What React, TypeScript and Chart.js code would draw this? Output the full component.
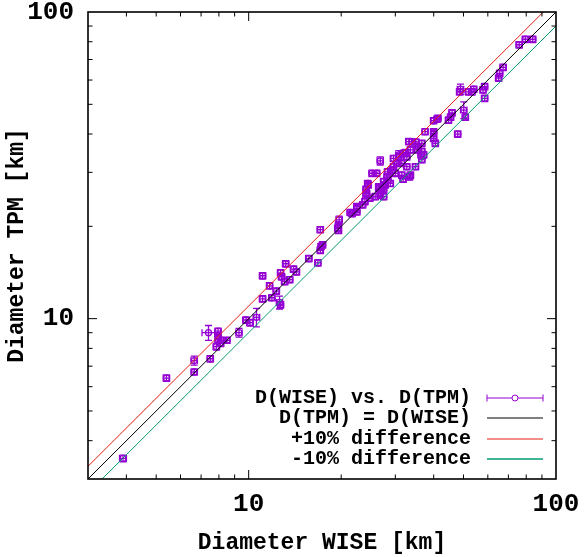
import React, { useEffect, useRef } from 'react';
import { Chart, registerables } from 'chart.js';

Chart.register(...registerables);

// Diameter from WISE [km]
const wiseD = [
  3.9, 5.4, 6.65, 6.65, 7.5, 7.4, 7.95, 7.95, 7.95, 7.85, 8.1, 8.25, 8.5, 9.3, 9.8, 10.1, 10.6,
  11.1, 11.1, 11.7, 11.9, 12.3, 12.6, 12.7, 12.7, 12.8, 13.2, 13.1, 13.6, 14.0, 14.3, 15.7, 16.8,
  17.1, 17.2, 17.4, 17.1, 19.5, 19.7, 19.6, 19.6, 21.4, 21.7, 22.5, 22.5, 22.5, 23.5, 23.9, 24.1,
  24.4, 24.1, 24.5, 24.2, 24.8, 25.2, 26.1, 26.8, 26.8, 26.5, 26.5, 27.5, 27.1, 25.8, 26.8, 27.5,
  27.5, 28.2, 28.3, 28.9, 28.4, 27.8, 27.5, 29.3, 30.0, 29.6, 29.6, 30.4, 30.8, 30.8, 31.9, 31.5,
  31.8, 31.5, 32.4, 32.7, 33.6, 33.6, 33.4, 32.7, 33.2, 34.0, 35.0, 35.4, 35.6, 36.6, 36.6, 36.4,
  36.6, 34.9, 37.1, 37.5, 40.0, 40.5, 40.0, 40.0, 41.0, 41.3, 40.0, 44.7, 45.4, 45.9, 47.9, 50.1,
  50.7, 48.9, 48.6, 51.9, 53.3, 54.0, 57.9, 58.6, 58.6, 65.1, 65.6, 67.3, 75.9, 79.5, 84.0,
];

// Diameter from TPM [km]
const tpmD = [
  3.5, 6.4, 6.7, 7.3, 7.4, 9.0, 9.1, 8.8, 8.55, 8.1, 8.3, 8.5, 8.5, 9.0, 9.9, 9.7, 10.1,
  13.8, 11.6, 12.8, 11.7, 12.3, 11.3, 11.1, 14.1, 13.7, 15.1, 13.2, 13.4, 14.5, 14.2, 15.7, 15.2,
  19.5, 17.2, 17.4, 16.7, 19.7, 21.0, 20.2, 19.4, 22.2, 22.0, 22.3, 22.9, 23.2, 23.5, 24.1, 25.3,
  27.6, 26.4, 27.3, 25.6, 24.7, 29.8, 29.8, 32.7, 25.6, 26.9, 26.6, 28.0, 26.3, 25.0, 25.3, 27.3,
  25.0, 29.0, 30.1, 27.6, 28.3, 27.3, 26.3, 30.5, 29.8, 31.3, 33.3, 32.1, 33.7, 34.2, 34.6, 29.4,
  28.5, 32.1, 34.8, 33.7, 35.5, 29.4, 29.0, 31.3, 37.8, 37.7, 37.7, 35.5, 36.4, 37.3, 35.1, 34.2,
  33.0, 31.3, 34.2, 40.7, 40.7, 37.3, 38.7, 40.2, 44.7, 45.0, 44.2, 44.4, 45.4, 46.9, 40.0, 47.9,
  45.4, 56.0, 54.9, 54.9, 54.9, 56.0, 55.7, 57.1, 52.3, 60.9, 63.1, 66.0, 78.2, 81.5, 81.5,
];

// uncertainties [km]
const wiseErr = [
  0.1, 0.13, 0.16, 0.16, 0.18, 0.35, 0.19, 0.19, 0.19, 0.19, 0.2, 0.2, 0.2, 0.22, 0.24, 0.25, 0.26,
  0.27, 0.27, 0.28, 0.29, 0.3, 0.3, 0.3, 0.3, 0.31, 0.32, 0.32, 0.33, 0.34, 0.35, 0.38, 0.4,
  0.41, 0.41, 0.42, 0.41, 0.47, 0.47, 0.47, 0.47, 0.52, 0.52, 0.54, 0.54, 0.54, 0.56, 0.57, 0.58,
  0.59, 0.58, 0.59, 0.58, 0.6, 0.6, 0.63, 0.64, 0.64, 0.64, 0.64, 0.66, 0.65, 0.62, 0.64, 0.66,
  0.66, 0.68, 0.68, 0.69, 0.68, 0.67, 0.66, 0.7, 0.72, 0.71, 0.71, 0.73, 0.74, 0.74, 0.77, 0.76,
  0.76, 0.76, 0.78, 0.78, 0.81, 0.81, 0.8, 0.78, 0.8, 0.82, 0.84, 0.85, 0.85, 0.88, 0.88, 0.87,
  0.88, 0.84, 0.89, 0.9, 0.96, 0.97, 0.96, 0.96, 0.98, 0.99, 0.96, 1.07, 1.09, 1.1, 1.15, 1.2,
  1.22, 1.17, 1.17, 1.25, 1.28, 1.3, 1.39, 1.41, 1.41, 1.56, 1.57, 1.62, 1.82, 1.91, 2.02,
];

const tpmErr = [
  0.09, 0.16, 0.16, 0.25, 0.18, 0.5, 0.22, 0.21, 0.2, 0.2, 0.2, 0.2, 0.2, 0.3, 0.24, 0.24, 0.7,
  0.33, 0.28, 0.31, 0.28, 0.3, 0.55, 0.27, 0.34, 0.33, 0.36, 0.32, 0.32, 0.35, 0.34, 0.38, 0.37,
  0.47, 0.41, 0.42, 0.4, 0.47, 0.6, 0.48, 0.47, 0.53, 0.53, 0.54, 0.7, 0.56, 0.56, 0.58, 0.61,
  0.66, 0.63, 0.66, 0.61, 0.59, 0.72, 0.72, 1.0, 0.61, 0.65, 0.64, 0.67, 0.63, 0.6, 0.61, 0.66,
  0.6, 0.7, 0.72, 0.66, 0.68, 0.66, 0.63, 0.73, 0.72, 0.75, 0.8, 0.77, 0.81, 1.1, 0.83, 0.71,
  0.68, 0.77, 0.84, 0.81, 0.85, 0.71, 0.7, 0.75, 0.91, 0.9, 0.9, 0.85, 0.87, 0.9, 0.84, 0.82,
  0.79, 0.75, 0.82, 0.98, 0.98, 0.9, 0.93, 0.96, 1.07, 1.08, 1.06, 1.07, 1.09, 1.13, 0.96, 3.0,
  1.09, 2.2, 1.32, 1.32, 1.32, 1.34, 1.34, 1.37, 1.26, 1.46, 1.51, 1.58, 1.88, 1.96, 1.96,
];

const axisRange = [3, 100];
const ratios = [1.0, 1.1, 0.9];
const majorTicks = [10, 100];
const minorTicks = [3, 4, 5, 6, 7, 8, 9, 20, 30, 40, 50, 60, 70, 80, 90];
const legendLabels = ['D(WISE) vs. D(TPM)', 'D(TPM) = D(WISE)', '+10% difference', '-10% difference'];

const PURPLE = '#9400d3';
const lineColors = ['#000000', '#e51e10', '#009e73'];
const FONT = '"Liberation Mono", "Courier New", monospace';
const CAP = 3.5;

const gnuplotPlugin = {
  id: 'gnuplotStyle',
  beforeDatasetsDraw(chart: any) {
    const { ctx, chartArea: a, scales } = chart;
    const x = scales.x;
    const y = scales.y;
    ctx.save();
    ctx.beginPath();
    ctx.rect(a.left, a.top, a.right - a.left, a.bottom - a.top);
    ctx.clip();
    ctx.strokeStyle = PURPLE;
    ctx.lineWidth = 1.3;
    ctx.beginPath();
    for (let i = 0; i < wiseD.length; i++) {
      const px = x.getPixelForValue(wiseD[i]);
      const py = y.getPixelForValue(tpmD[i]);
      const x0 = x.getPixelForValue(wiseD[i] - wiseErr[i]);
      const x1 = x.getPixelForValue(wiseD[i] + wiseErr[i]);
      const y0 = y.getPixelForValue(tpmD[i] - tpmErr[i]);
      const y1 = y.getPixelForValue(tpmD[i] + tpmErr[i]);
      ctx.moveTo(x0, py); ctx.lineTo(x1, py);
      ctx.moveTo(x0, py - CAP); ctx.lineTo(x0, py + CAP);
      ctx.moveTo(x1, py - CAP); ctx.lineTo(x1, py + CAP);
      ctx.moveTo(px, y0); ctx.lineTo(px, y1);
      ctx.moveTo(px - CAP, y0); ctx.lineTo(px + CAP, y0);
      ctx.moveTo(px - CAP, y1); ctx.lineTo(px + CAP, y1);
    }
    ctx.stroke();
    ctx.restore();
  },
  afterDraw(chart: any) {
    const { ctx, chartArea: a, scales } = chart;
    const x = scales.x;
    const y = scales.y;
    ctx.save();
    // ticks (inward, mirrored)
    ctx.strokeStyle = '#000';
    ctx.lineWidth = 1;
    ctx.beginPath();
    const drawTicks = (vals: number[], len: number) => {
      vals.forEach((v) => {
        const xp = x.getPixelForValue(v);
        if (xp > a.left + 0.5 && xp < a.right - 0.5) {
          ctx.moveTo(xp, a.bottom); ctx.lineTo(xp, a.bottom - len);
          ctx.moveTo(xp, a.top); ctx.lineTo(xp, a.top + len);
        }
        const yp = y.getPixelForValue(v);
        if (yp > a.top + 0.5 && yp < a.bottom - 0.5) {
          ctx.moveTo(a.left, yp); ctx.lineTo(a.left + len, yp);
          ctx.moveTo(a.right, yp); ctx.lineTo(a.right - len, yp);
        }
      });
    };
    drawTicks(majorTicks, 9);
    drawTicks(minorTicks, 4.5);
    ctx.stroke();
    // frame
    ctx.lineWidth = 1.6;
    ctx.strokeRect(a.left, a.top, a.right - a.left, a.bottom - a.top);

    // legend
    ctx.font = `bold 20px ${FONT}`;
    ctx.textAlign = 'right';
    ctx.textBaseline = 'middle';
    ctx.fillStyle = '#000';
    const rows = [a.bottom - 81, a.bottom - 61, a.bottom - 40, a.bottom - 20];
    const tx = a.right - 85;
    const sx0 = a.right - 69;
    const sx1 = a.right - 13;
    legendLabels.forEach((lab, i) => {
      const ry = rows[i];
      ctx.fillText(lab, tx, ry);
      ctx.lineWidth = 1;
      if (i === 0) {
        ctx.strokeStyle = PURPLE;
        ctx.beginPath();
        ctx.moveTo(sx0, ry); ctx.lineTo(sx1, ry);
        ctx.moveTo(sx0, ry - CAP); ctx.lineTo(sx0, ry + CAP);
        ctx.moveTo(sx1, ry - CAP); ctx.lineTo(sx1, ry + CAP);
        ctx.stroke();
        ctx.fillStyle = '#fff';
        ctx.beginPath();
        ctx.arc((sx0 + sx1) / 2, ry, 3, 0, Math.PI * 2);
        ctx.fill();
        ctx.stroke();
        ctx.fillStyle = '#000';
      } else {
        ctx.strokeStyle = lineColors[i - 1];
        ctx.lineWidth = i === 3 ? 1.5 : 1;
        ctx.beginPath();
        ctx.moveTo(sx0, ry); ctx.lineTo(sx1, ry);
        ctx.stroke();
      }
    });
    ctx.restore();
  },
};

export default function App() {
  const ref = useRef<HTMLCanvasElement | null>(null);

  useEffect(() => {
    if (!ref.current) return;
    const lineDatasets = ratios.map((r, i) => ({
      type: 'line' as const,
      label: legendLabels[i + 1],
      data: axisRange.map((v) => ({ x: v, y: v * r })),
      borderColor: lineColors[i],
      borderWidth: 1,
      pointRadius: 0,
      fill: false,
      tension: 0,
    }));
    const chart = new Chart(ref.current, {
      type: 'scatter',
      data: {
        datasets: [
          ...lineDatasets,
          {
            type: 'scatter' as const,
            label: legendLabels[0],
            data: wiseD.map((v, i) => ({ x: v, y: tpmD[i] })),
            borderColor: PURPLE,
            backgroundColor: 'rgba(0,0,0,0)',
            borderWidth: 1.3,
            pointRadius: 3,
            pointStyle: 'circle',
          },
        ] as any,
      },
      options: {
        animation: false,
        responsive: false,
        devicePixelRatio: 1,
        layout: { padding: { top: 12, right: 31, left: 0, bottom: 0 } },
        plugins: { legend: { display: false }, tooltip: { enabled: false } },
        scales: {
          x: {
            type: 'logarithmic',
            position: 'bottom',
            min: axisRange[0],
            max: axisRange[1],
            grid: { display: false, drawTicks: false },
            border: { display: false },
            afterBuildTicks: (s: any) => {
              s.ticks = majorTicks.map((v) => ({ value: v }));
            },
            ticks: {
              autoSkip: false,
              maxRotation: 0,
              padding: 10,
              color: '#000',
              font: { family: FONT, size: 26, weight: 'bold' },
              callback: (v: any) => String(v),
            },
            title: {
              display: true,
              text: 'Diameter WISE [km]',
              color: '#000',
              font: { family: FONT, size: 23, weight: 'bold' },
              padding: { top: 0, bottom: 0 },
            },
            afterFit: (s: any) => {
              s.height = 78;
              s.paddingLeft = 0;
              s.paddingRight = 0;
            },
          },
          y: {
            type: 'logarithmic',
            position: 'left',
            min: axisRange[0],
            max: axisRange[1],
            grid: { display: false, drawTicks: false },
            border: { display: false },
            afterBuildTicks: (s: any) => {
              s.ticks = majorTicks.map((v) => ({ value: v }));
            },
            ticks: {
              autoSkip: false,
              padding: 14,
              color: '#000',
              font: { family: FONT, size: 26, weight: 'bold' },
              callback: (v: any) => String(v),
            },
            title: {
              display: true,
              text: 'Diameter TPM [km]',
              color: '#000',
              font: { family: FONT, size: 23, weight: 'bold' },
              padding: { top: 3, bottom: 0 },
            },
            afterFit: (s: any) => {
              s.width = 88;
              s.paddingTop = 0;
              s.paddingBottom = 0;
            },
          },
        },
      } as any,
      plugins: [gnuplotPlugin],
    });
    return () => chart.destroy();
  }, []);

  return (
    <div style={{ position: 'fixed', left: 0, top: 0, width: 587, height: 557, background: '#fff' }}>
      <canvas ref={ref} width={587} height={557} style={{ display: 'block' }} />
    </div>
  );
}
